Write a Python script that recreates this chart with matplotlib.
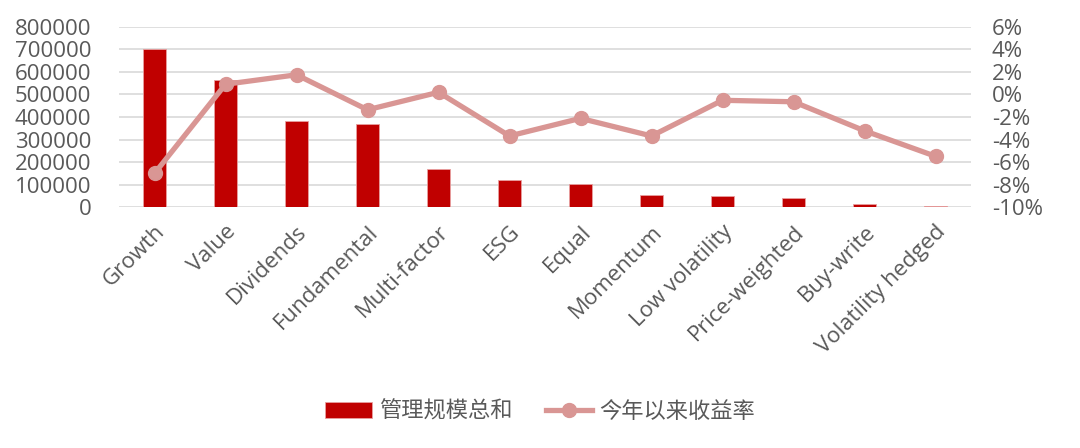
import matplotlib
matplotlib.use("Agg")
import matplotlib.pyplot as plt
from matplotlib.ticker import FuncFormatter

categories = ["Growth", "Value", "Dividends", "Fundamental", "Multi-factor", "ESG",
              "Equal", "Momentum", "Low volatility", "Price-weighted", "Buy-write",
              "Volatility hedged"]
aum = [702000, 564000, 382000, 370000, 171000, 121000, 104000, 54000, 49000, 42000, 14000, 4000]
ytd_return = [-7.0, 0.9, 1.74, -1.36, 0.19, -3.68, -2.12, -3.68, -0.52, -0.65, -3.22, -5.48]
left_ticks = [0, 100000, 200000, 300000, 400000, 500000, 600000, 700000, 800000]
right_ticks = [-10, -8, -6, -4, -2, 0, 2, 4, 6]

plt.rcParams['font.family'] = ['Open Sans', 'Noto Sans CJK SC', 'DejaVu Sans']
text_color = "#595959"
bar_color = "#C00000"
line_color = "#D99694"

fig = plt.figure(figsize=(10.8, 4.48), dpi=100)
ax = fig.add_axes([119/1080, 1 - 207.3/448, (971-119)/1080, (207.3-26.7)/448])
x = list(range(len(categories)))
bars = ax.bar(x, aum, width=0.31, color=bar_color, edgecolor="#E8A0A0", linewidth=0.6,
              label="管理规模总和", zorder=2)
ax.set_xlim(-0.5, len(categories) - 0.5)
ax.set_ylim(0, 800000)
ax.set_yticks(left_ticks)
ax.yaxis.set_major_formatter(FuncFormatter(lambda v, p: f"{int(v)}"))
ax.grid(axis='y', color="#D9D9D9", linewidth=1.2, zorder=0)
ax.set_axisbelow(True)
for s in ax.spines.values():
    s.set_visible(False)
ax.tick_params(axis='both', length=0, labelsize=16, colors=text_color)
ax.tick_params(axis='y', pad=20)
ax.set_xticks(x)
ax.set_xticklabels(categories, rotation=45, ha='right', rotation_mode='anchor')
ax.tick_params(axis='x', pad=10)

ax2 = ax.twinx()
line, = ax2.plot(x, ytd_return, color=line_color, linewidth=3.8, marker='o', markersize=10,
                 label="今年以来收益率", zorder=3)
ax2.set_ylim(-10, 6)
ax2.set_yticks(right_ticks)
ax2.yaxis.set_major_formatter(FuncFormatter(lambda v, p: f"{int(round(v))}%"))
for s in ax2.spines.values():
    s.set_visible(False)
ax2.tick_params(axis='y', length=0, labelsize=16, colors=text_color, pad=15)

leg = fig.legend([bars, line], ["管理规模总和", "今年以来收益率"], loc='center',
                 bbox_to_anchor=(0.5, 1 - 412/448), ncol=2, frameon=False,
                 fontsize=16, handlelength=2.1, columnspacing=1.5, handletextpad=0.3)
for t in leg.get_texts():
    t.set_color(text_color)

fig.savefig("out.png", dpi=100)
